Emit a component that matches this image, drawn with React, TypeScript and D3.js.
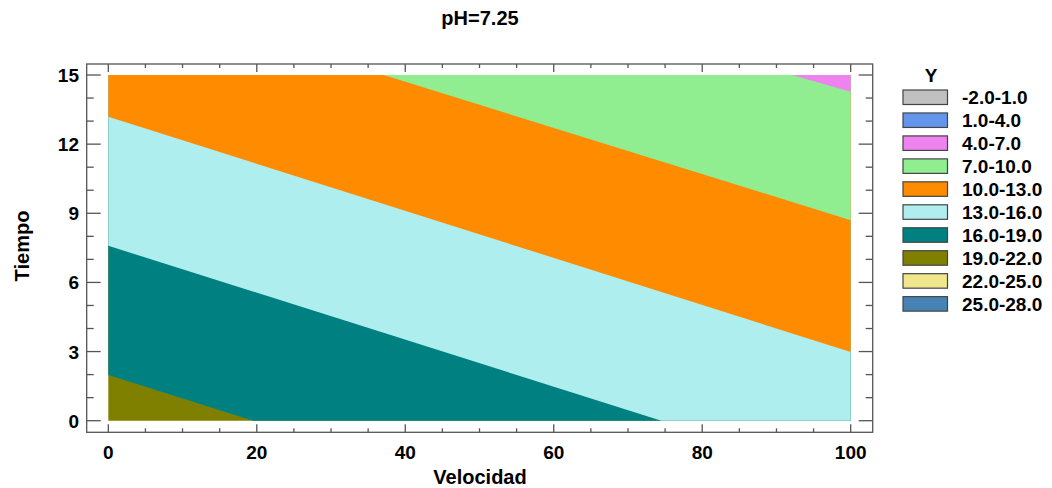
import * as d3 from 'd3';
import React, { useEffect, useRef } from 'react';

// legend ranges and fill colours, top to bottom
const bandLabels = ['-2.0-1.0', '1.0-4.0', '4.0-7.0', '7.0-10.0', '10.0-13.0', '13.0-16.0', '16.0-19.0', '19.0-22.0', '22.0-25.0', '25.0-28.0'];
const bandColors = ['#c0c0c0', '#6495ed', '#ee82ee', '#90ee90', '#ff8c00', '#afeeee', '#008080', '#808000', '#f0e68c', '#4682b4'];

// contour lines: level, and the two points where it meets the plot edge (Velocidad, Tiempo)
const contourLevels = [19, 16, 13, 10, 7];
const lineStart = [[0, 1.98], [0, 7.59], [0, 13.19], [37.1, 15], [92.1, 15]];
const lineEnd = [[19.5, 0], [74.5, 0], [100, 2.98], [100, 8.7], [100, 14.27]];

const xDomain = [0, 100];
const yDomain = [0, 15];

type Pt = [number, number];

// keep the part of a polygon on the side of line a-b where "ref" lies
function clipHalfPlane(poly: Pt[], a: Pt, b: Pt, ref: Pt): Pt[] {
    const side = (p: Pt) => (b[0] - a[0]) * (p[1] - a[1]) - (b[1] - a[1]) * (p[0] - a[0]);
    const s = Math.sign(side(ref));
    const out: Pt[] = [];
    for (let i = 0; i < poly.length; i++) {
        const p = poly[i];
        const q = poly[(i + 1) % poly.length];
        const sp = side(p) * s;
        const sq = side(q) * s;
        if (sp >= 0) out.push(p);
        if ((sp >= 0) !== (sq >= 0)) {
            const t = sp / (sp - sq);
            out.push([p[0] + t * (q[0] - p[0]), p[1] + t * (q[1] - p[1])]);
        }
    }
    return out;
}

function colorFor(level: number) {
    // band just below this level
    const idx = bandLabels.findIndex(l => parseFloat(l.split(/(?<=\d)-/)[1]) === level);
    return bandColors[idx];
}

export default function App() {
    const ref = useRef<SVGSVGElement>(null);

    useEffect(() => {
        const svg = d3.select(ref.current);
        svg.selectAll('*').remove();

        const font = '"Liberation Sans", Arial, sans-serif';
        const x = d3.scaleLinear().domain(xDomain).range([108.3, 850.7]);
        const y = d3.scaleLinear().domain(yDomain).range([420.7, 75]);
        const frame = { left: 86.7, top: 64, right: 872.7, bottom: 432.3 };

        svg.append('rect').attr('width', 1052).attr('height', 488).attr('fill', '#fff');

        // filled bands
        const rect: Pt[] = [[xDomain[0], yDomain[0]], [xDomain[1], yDomain[0]], [xDomain[1], yDomain[1]], [xDomain[0], yDomain[1]]];
        const line = d3.line<Pt>().x(d => x(d[0])).y(d => y(d[1])).curve(d3.curveLinearClosed);
        const g = svg.append('g');
        g.append('path').attr('d', line(rect)).attr('fill', colorFor(22));
        contourLevels.forEach((lvl, i) => {
            const poly = clipHalfPlane(rect, lineStart[i] as Pt, lineEnd[i] as Pt, [xDomain[1], yDomain[1]]);
            g.append('path').attr('d', line(poly)).attr('fill', colorFor(lvl));
        });

        // frame
        svg.append('rect')
            .attr('x', frame.left).attr('y', frame.top)
            .attr('width', frame.right - frame.left).attr('height', frame.bottom - frame.top)
            .attr('fill', 'none').attr('stroke', '#555').attr('stroke-width', 1.3);

        const tk = svg.append('g').attr('stroke', '#555').attr('stroke-width', 1.3);
        d3.range(0, 101, 5).forEach(v => {
            const len = v % 20 === 0 ? 8 : 4;
            tk.append('line').attr('x1', x(v)).attr('x2', x(v)).attr('y1', frame.bottom).attr('y2', frame.bottom - len);
            tk.append('line').attr('x1', x(v)).attr('x2', x(v)).attr('y1', frame.top).attr('y2', frame.top + len);
        });
        d3.range(0, 16, 1).forEach(v => {
            const len = v % 3 === 0 ? 14 : 7;
            tk.append('line').attr('y1', y(v)).attr('y2', y(v)).attr('x1', frame.left).attr('x2', frame.left + len);
            tk.append('line').attr('y1', y(v)).attr('y2', y(v)).attr('x1', frame.right).attr('x2', frame.right - len);
        });

        const txt = svg.append('g').attr('font-family', font).attr('font-weight', 'bold').attr('fill', '#000');
        x.ticks(5).forEach(v => {
            txt.append('text').attr('x', x(v)).attr('y', 459).attr('text-anchor', 'middle').attr('font-size', 19).text(v);
        });
        d3.range(0, 16, 3).forEach(v => {
            txt.append('text').attr('x', 79).attr('y', y(v) + 7).attr('text-anchor', 'end').attr('font-size', 19).text(v);
        });

        txt.append('text').attr('x', 480).attr('y', 25).attr('text-anchor', 'middle').attr('font-size', 20).text('pH=7.25');
        txt.append('text').attr('x', 480).attr('y', 484).attr('text-anchor', 'middle').attr('font-size', 20).text('Velocidad');
        txt.append('text').attr('transform', 'translate(29,246) rotate(-90)').attr('text-anchor', 'middle').attr('font-size', 20).text('Tiempo');

        // legend
        const lg = svg.append('g');
        lg.append('text').attr('x', 931).attr('y', 82).attr('text-anchor', 'middle')
            .attr('font-family', font).attr('font-weight', 'bold').attr('font-size', 19).text('Y');
        bandLabels.forEach((lab, i) => {
            const yy = 90 + i * 22.96;
            lg.append('rect').attr('x', 903).attr('y', yy).attr('width', 44.5).attr('height', 14.5)
                .attr('fill', bandColors[i]).attr('stroke', '#444').attr('stroke-width', 1.2);
            lg.append('text').attr('x', 962).attr('y', yy + 14)
                .attr('font-family', font).attr('font-weight', 'bold').attr('font-size', 19).text(lab);
        });
    }, []);

    return (
        <svg ref={ref} width={1052} height={488} style={{ display: 'block', position: 'absolute', left: 0, top: 0 }} />
    );
}
